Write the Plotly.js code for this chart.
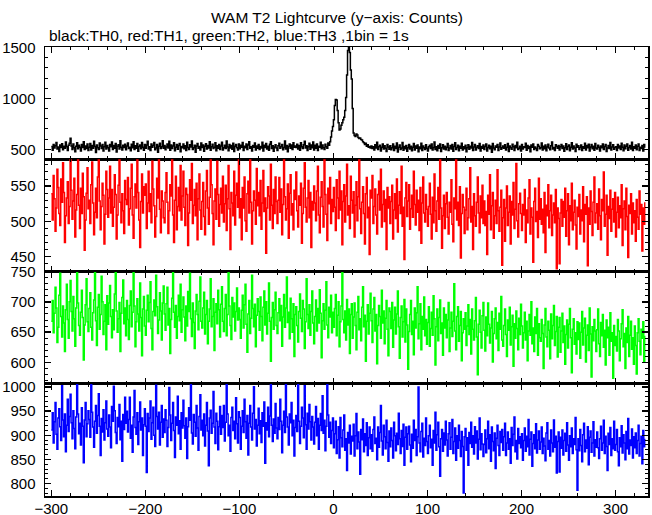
<!DOCTYPE html>
<html>
<head>
<meta charset="utf-8">
<script src="https://cdn.plot.ly/plotly-3.0.1.min.js"></script>
<style>html,body{margin:0;padding:0;background:#fff;}#chart{width:652px;height:515px;}</style>
</head>
<body>
<div id="chart"></div>
<script>
// Time axis: first bin start (s) and bin size (s)
const tStart = -300;
const binSize = 1;

// TH0 (black) counts per 1 s bin, t = -300 ... 331
const th0 = [
528,491,547,512,535,566,503,522,478,541,517,555,496,530,509,572,524,488,539,560,
608,533,497,551,514,476,529,563,505,540,521,484,546,518,575,499,532,507,553,489,
520,557,493,536,511,580,527,469,542,515,498,561,533,508,547,482,526,569,502,538,
514,483,548,525,571,499,537,510,556,474,529,545,503,583,519,492,540,517,550,496,
533,562,507,521,486,549,516,574,498,535,511,557,480,528,543,505,566,520,491,546,
509,541,578,502,525,488,553,519,536,567,495,513,548,472,530,559,507,524,584,511,
537,495,522,551,513,579,490,542,508,531,564,485,520,547,501,536,557,476,528,515,
552,506,534,488,569,517,499,545,523,581,497,514,540,470,533,556,509,527,493,561,
518,543,480,529,555,503,538,512,574,491,526,549,507,520,563,486,535,511,547,499,
531,568,494,516,540,507,582,523,485,548,512,537,501,559,477,529,546,515,492,553,
506,539,521,566,488,530,514,551,497,543,575,509,525,482,538,519,561,494,533,510,
546,498,527,512,570,483,540,518,556,502,529,491,549,573,507,534,481,522,545,513,
488,535,560,509,524,547,496,518,582,503,537,476,528,553,511,542,499,565,520,531,
517,549,502,536,491,563,526,508,544,579,512,535,487,524,558,500,541,516,572,494,
539,511,553,487,530,521,568,506,542,515,497,550,526,509,561,540,575,620,680,725,
790,930,990,985,880,760,690,700,735,760,790,815,880,1010,1230,1470,1500,1450,1280,1190,
900,660,635,625,650,640,615,605,610,595,590,575,565,548,560,530,545,520,528,512,
531,507,524,492,545,513,568,499,526,540,484,519,553,502,535,510,478,547,522,501,
534,496,515,552,487,529,508,561,473,520,541,497,512,566,490,527,505,538,481,516,
548,502,529,485,519,556,494,531,510,543,476,522,505,560,489,533,514,498,545,511,
483,526,540,507,551,492,518,571,499,524,486,537,509,553,478,515,544,502,530,495,
521,557,489,512,536,503,548,480,527,563,497,518,540,485,529,510,558,493,524,506,
539,475,516,545,501,530,513,567,488,522,547,494,519,534,507,556,482,528,511,543,
498,527,552,484,518,540,505,529,471,557,513,496,532,519,548,487,523,562,500,516,
531,509,545,492,520,556,478,533,514,501,549,524,487,538,515,569,497,511,530,482,
546,503,525,517,558,490,536,507,528,475,542,519,553,499,523,511,488,547,529,505,
514,562,493,530,506,541,485,522,550,512,496,535,571,503,518,489,544,527,509,537,
492,524,547,508,533,480,516,555,499,528,542,486,520,565,502,531,513,477,549,521,
535,497,518,543,489,526,509,560,494,537,515,550,482,523,546,505,529,491,557,512,
503,540,521,484,531,516,553,498,527,546,479,512,538,508,566,493,522,544,500,518,
526,489,547,512,533,497,559,520,485,541,506,530,553,491,517,538,503,568,487,525,
510,543,496,529,552,488,521,507,536,482,547,515
];

// TH1 (red)
const th1 = [
539,502,565,532,486,519,574,548,511,494,560,527,583,541,470,508,533,556,497,521,
589,544,503,529,561,478,516,538,592,523,490,547,511,568,535,459,502,540,576,518,
530,497,552,584,526,481,513,547,505,563,599,529,488,521,554,537,468,510,571,545,
506,533,578,512,545,493,520,566,538,475,509,551,590,527,498,539,515,483,558,531,
524,562,495,518,547,581,509,476,535,553,519,594,541,502,463,528,567,512,549,537,
553,490,526,571,514,539,498,585,546,522,478,507,561,533,596,517,484,543,529,505,
498,541,569,527,483,515,552,536,601,509,470,530,564,488,521,548,515,579,502,536,
571,520,494,547,538,466,512,559,530,582,497,523,545,508,554,474,532,567,516,489,
528,555,507,481,543,572,519,496,534,590,552,511,467,529,546,503,585,538,493,524,
547,512,564,499,525,551,487,532,579,518,460,541,526,508,571,495,537,554,520,588,
505,532,474,548,519,563,501,486,539,557,512,594,527,468,515,543,530,496,575,522,
541,508,558,489,526,572,514,533,455,519,549,536,502,581,523,490,545,511,563,528,
497,530,562,513,546,481,524,597,535,502,518,553,476,540,566,509,525,488,544,531,
570,515,492,536,523,554,469,511,547,583,520,499,533,558,505,541,463,528,516,550,
526,501,543,578,509,484,534,556,521,492,612,538,510,473,547,525,562,497,531,514,
548,520,487,559,533,504,571,516,543,467,528,552,499,536,581,509,522,490,564,530,
512,542,478,523,556,501,535,591,518,483,527,549,511,468,539,562,505,520,453,544,
533,565,497,521,546,509,482,538,557,516,574,492,524,543,500,531,460,548,519,535,
497,528,551,475,516,539,504,560,485,523,542,511,578,493,520,446,533,555,507,529,
552,489,518,537,506,571,524,495,544,513,530,487,548,469,526,563,512,499,538,517,
493,521,554,510,475,534,498,567,515,486,529,548,503,592,519,462,508,537,490,525,
541,506,482,527,513,559,496,471,533,518,589,502,527,494,549,448,511,538,520,483,
516,547,488,505,532,576,499,521,460,539,508,493,527,563,512,484,536,505,551,497,
529,494,514,453,537,510,566,488,522,541,476,508,530,497,573,515,486,520,544,438,
505,531,472,519,550,494,513,536,468,528,509,555,490,517,582,501,478,525,540,511,
487,524,509,545,470,516,498,533,559,482,519,506,442,528,547,500,514,477,561,503,
532,496,517,484,541,456,523,508,552,491,515,537,480,509,526,498,545,433,519,504,
440,512,531,493,528,506,547,479,515,539,467,522,501,554,488,513,530,495,461,520,
507,538,482,516,501,549,471,524,510,535,437,519,496,543,514,480,527,563,498,512,
525,489,546,508,474,531,515,570,493,510,537,452,521,504,544,486,517,532,499,541,
478,513,534,491,522,505,552,466,518,529,488,547,507,449,523,511,539,482,526,498,
515,472,531,506,489,543,510,524,458,519,496,527
];

// TH2 (green)
const th2 = [
668,702,649,681,724,690,633,658,711,747,676,642,693,665,618,687,729,671,640,700,
735,684,652,709,672,627,690,756,698,661,645,683,719,674,604,662,695,738,667,651,
689,715,658,637,682,703,750,669,628,691,712,655,679,742,700,646,668,695,621,710,
663,698,727,676,641,687,654,713,760,685,650,672,699,618,681,707,736,664,690,644,
702,671,638,694,718,659,683,748,693,626,667,705,680,652,731,674,611,688,709,660,
645,686,711,667,699,733,656,621,684,703,677,744,692,648,670,715,685,637,698,726,
680,653,697,724,662,689,615,671,706,752,683,658,694,640,676,711,669,729,650,687,
708,675,636,693,660,717,684,747,672,643,698,666,623,685,712,679,654,701,741,668,
657,690,716,647,679,702,631,668,688,738,659,676,705,620,683,697,664,719,687,642,
696,725,668,651,689,712,644,679,758,693,661,638,707,675,698,652,684,723,670,690,
671,640,686,711,657,695,729,663,617,680,702,648,673,744,689,659,696,626,678,705,
684,653,708,676,636,691,718,662,700,647,681,731,668,602,674,699,655,687,716,661,
648,682,705,669,694,627,675,712,658,690,741,666,683,639,706,672,650,697,610,679,
692,661,634,684,713,673,651,702,688,623,667,738,679,656,695,645,684,718,665,631,
676,703,652,689,665,720,681,608,669,697,655,686,733,662,641,691,675,711,649,683,
658,689,712,644,678,700,626,667,693,750,671,649,685,637,704,662,688,615,679,697,
640,675,698,661,621,683,709,654,672,636,691,725,659,678,602,668,695,647,681,714,
669,633,688,707,652,679,598,661,694,676,640,719,665,685,631,673,702,655,611,690,
684,656,699,625,670,691,647,680,718,659,607,674,693,642,667,704,634,688,662,589,
651,679,702,646,668,613,690,657,682,725,639,664,697,621,676,655,708,644,671,630,
666,692,627,656,683,645,710,672,596,659,688,636,674,703,648,665,612,690,657,679,
641,670,699,618,657,683,643,668,730,652,621,676,692,635,661,684,603,649,672,655,
682,628,660,695,646,671,614,688,655,637,669,707,642,580,663,686,650,624,677,699,
653,619,675,644,698,663,632,657,684,601,648,672,690,639,666,620,681,655,709,637,
627,661,688,646,610,670,653,691,629,659,678,594,664,640,685,656,621,673,646,696,
660,624,649,683,637,668,603,652,679,645,700,631,657,618,675,648,689,612,664,641,
635,671,648,590,662,689,642,626,668,653,606,680,639,661,694,628,651,676,609,658,
674,617,652,681,633,660,597,646,670,624,663,689,641,583,655,672,630,649,614,667,
638,665,607,650,684,629,657,673,601,645,662,620,690,647,576,659,636,671,652,618,
654,688,631,610,666,644,679,625,653,596,670,641,658,612,682,635,649,574,661,628,
643,619,671,652,603,639,664,687,626,648,590,657,633,676,610,645,668,622,641,597,
660,628,581,649,672,635,613,655,640,667,602,644
];

// TH3 (blue)
const th3 = [
911,947,884,928,968,902,871,936,955,918,889,1003,932,897,944,866,921,975,908,939,
985,926,893,951,914,872,938,1006,944,903,925,880,957,919,843,932,968,897,924,951,
933,896,1008,948,917,875,929,962,904,941,986,919,858,935,907,953,890,926,971,913,
898,942,917,874,960,929,1002,951,906,883,937,918,964,891,929,846,943,912,979,925,
950,907,933,979,894,921,865,938,993,916,902,947,881,928,969,911,936,858,922,955,
919,823,945,908,936,971,892,926,958,900,877,1004,939,913,948,880,927,962,896,934,
906,953,931,877,916,999,942,889,925,968,910,854,938,921,981,903,930,871,947,915,
973,920,894,936,852,918,957,931,1010,905,882,943,927,898,962,915,869,939,984,911,
931,899,944,878,921,968,909,837,936,952,904,925,991,917,883,946,929,870,918,960,
902,941,916,962,888,927,1005,944,899,921,867,937,958,910,929,893,978,924,884,949,
937,871,919,951,906,975,928,894,941,859,925,962,917,890,946,1001,913,933,878,921,
956,903,930,885,947,919,969,842,926,911,958,897,940,1008,921,887,934,904,966,915,
893,937,912,975,929,864,921,950,906,1007,938,917,880,944,926,968,899,931,857,916,
941,908,1007,929,883,919,958,936,895,1003,922,871,946,913,964,928,890,939,917,882,
927,960,899,935,871,921,945,910,982,904,931,868,919,1006,942,896,927,883,910,936,
874,903,929,862,891,918,853,937,895,876,911,942,869,893,827,906,884,921,861,898,
888,923,857,899,945,872,907,886,819,912,891,934,866,903,879,926,858,895,917,872,
901,867,912,938,883,894,849,917,875,906,962,888,859,921,897,872,931,885,846,909,
876,915,889,853,927,899,868,904,881,946,893,862,910,877,923,838,896,917,871,903,
919,880,845,902,873,931,889,912,858,897,1000,884,866,908,925,855,894,879,936,887,
862,899,921,874,892,838,910,884,948,869,901,927,876,815,893,912,867,905,880,929,
890,857,903,926,871,896,933,862,887,915,848,899,873,921,889,856,908,877,780,897,
914,869,895,838,906,883,927,875,899,861,918,884,909,851,892,936,870,903,882,856,
881,911,864,893,929,872,901,846,917,887,868,905,831,894,921,879,858,908,885,912,
869,897,925,858,884,907,871,893,842,916,879,902,938,866,889,851,914,883,897,874,
903,848,889,915,867,898,876,933,859,892,907,836,883,901,872,924,863,890,909,871,
886,917,862,894,878,847,905,926,871,889,857,911,884,866,932,875,898,822,887,907,
824,896,873,911,859,889,904,867,926,880,848,899,876,915,862,893,881,937,870,786,
893,868,912,879,845,901,925,866,890,873,918,839,896,909,865,884,928,857,891,875,
907,874,852,893,919,869,884,931,862,898,877,827,904,881,916,858,893,872,929,869,
881,912,866,837,895,876,920,863,901,884,849,908,872,935,861,890,879,913,853,897,
874,905,862,889,921,857,883,898,841,910,876,893
];

const seriesNames = ['TH0', 'TH1', 'TH2', 'TH3'];
const seriesColors = ['#000000', '#ff0000', '#00ff00', '#0000ff'];
const xTickVals = [-300, -200, -100, 0, 100, 200, 300];

function binTimes(n) {
  const t = [];
  for (let i = 0; i < n; i++) t.push(tStart + i * binSize);
  return t;
}

const allSeries = [th0, th1, th2, th3];
const traces = allSeries.map((vals, i) => ({
  type: 'scatter',
  mode: 'lines',
  name: seriesNames[i],
  x: binTimes(vals.length),
  y: vals,
  xaxis: i === 0 ? 'x' : 'x' + (i + 1),
  yaxis: i === 0 ? 'y' : 'y' + (i + 1),
  line: { color: seriesColors[i], width: 1.5, shape: 'hv' },
  hoverinfo: 'x+y'
}));

const font = { family: '"Liberation Sans", Arial, sans-serif', size: 15, color: '#000' };

function xAxis(i) {
  return {
    anchor: i === 0 ? 'y' : 'y' + (i + 1),
    matches: i === 0 ? undefined : 'x',
    range: [-306.7, 334.5],
    domain: [0, 1],
    showline: true, linecolor: '#000', linewidth: 1.5, mirror: 'ticks',
    ticks: 'inside', ticklen: 6, tickwidth: 1.5, tickcolor: '#000',
    tickmode: 'array', tickvals: xTickVals,
    minor: { dtick: 20, ticks: 'inside', ticklen: 3, tickwidth: 1, tickcolor: '#000', showgrid: false },
    showticklabels: i === 3,
    showgrid: false, zeroline: false,
    tickfont: font,
    ticklabelstandoff: -2
  };
}
function yAxis(i, range, dtick, minorDtick, domain) {
  return {
    anchor: i === 0 ? 'x' : 'x' + (i + 1),
    domain: domain,
    range: range,
    dtick: dtick, tick0: 0,
    showline: true, linecolor: '#000', linewidth: 1.5, mirror: 'ticks',
    ticks: 'inside', ticklen: 6, tickwidth: 1.5, tickcolor: '#000',
    minor: { dtick: minorDtick, tick0: 0, ticks: 'inside', ticklen: 3, tickwidth: 1, tickcolor: '#000', showgrid: false },
    showgrid: false, zeroline: false,
    tickfont: font,
    ticklabelstandoff: 5
  };
}

const layout = {
  width: 652, height: 515,
  margin: { l: 45, r: 4, t: 47, b: 19 },
  paper_bgcolor: '#fff', plot_bgcolor: '#fff',
  showlegend: false,
  font: font,
  xaxis: xAxis(0), xaxis2: xAxis(1), xaxis3: xAxis(2), xaxis4: xAxis(3),
  yaxis: yAxis(0, [402, 1505], 500, 100, [0.75, 1]),
  yaxis2: yAxis(1, [429, 588], 50, 10, [0.5, 0.75]),
  yaxis3: yAxis(2, [565, 750], 50, 10, [0.25, 0.5]),
  yaxis4: yAxis(3, [774, 1007], 50, 10, [0, 0.25]),
  annotations: [
    { text: 'WAM T2 Lightcurve (y\u2212axis: Counts)', xref: 'paper', yref: 'paper',
      x: 0.484, y: 1.0668, xanchor: 'center', yanchor: 'middle', showarrow: false,
      font: { family: font.family, size: 15.5, color: '#000' } },
    { text: 'black:TH0, red:TH1, green:TH2, blue:TH3 ,1bin = 1s', xref: 'paper', yref: 'paper',
      x: 0.0033, y: 1.0245, xanchor: 'left', yanchor: 'middle', showarrow: false,
      font: { family: font.family, size: 15.5, color: '#000' } }
  ]
};

Plotly.newPlot('chart', traces, layout, { staticPlot: true, displayModeBar: false });
</script>
</body>
</html>
